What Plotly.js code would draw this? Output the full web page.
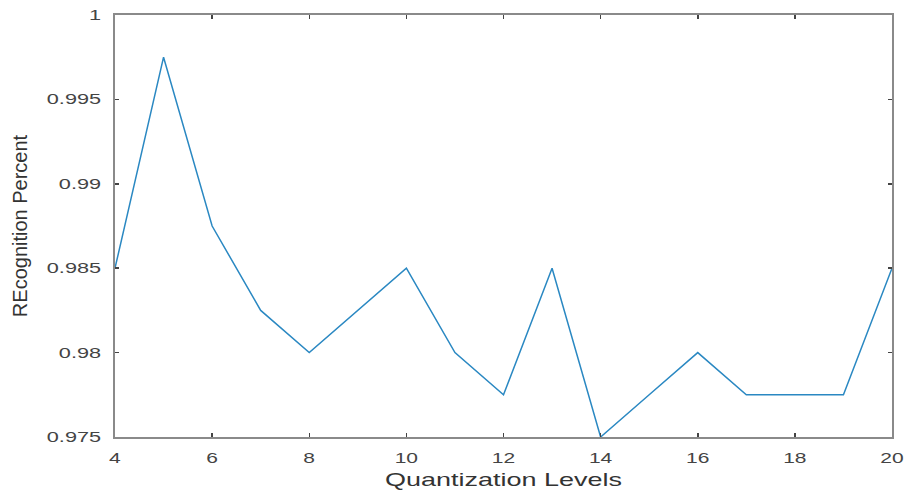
<!DOCTYPE html>
<html><head><meta charset="utf-8">
<script src="https://cdn.plot.ly/plotly-3.0.1.min.js"></script>
<style>body{margin:0;background:#fff}#c{width:904px;height:491px}</style>
</head><body><div id="c"></div>
<script>
const levels = [4,5,6,7,8,9,10,11,12,13,14,15,16,17,18,19,20];
const recognition = [0.985,0.9975,0.9875,0.9825,0.98,0.9825,0.985,0.98,0.9775,0.985,0.975,0.9775,0.98,0.9775,0.9775,0.9775,0.985];
const xTicks = [4,6,8,10,12,14,16,18,20];
const yTicks = [0.975,0.98,0.985,0.99,0.995,1];
const yTickText = ['0.975','0.98','0.985','0.99','0.995','1'];

const FONT = 'Liberation Sans, Arial, sans-serif';
const axisCommon = {
  showgrid:false, zeroline:false, showline:true, mirror:'ticks',
  linecolor:'#8a8a8a', linewidth:2, ticks:'inside', ticklen:4, tickwidth:1.5, tickcolor:'#444',
  tickfont:{family:FONT, size:14, color:'#444'}
};
Plotly.newPlot('c', [{
  x: levels, y: recognition, type:'scatter', mode:'lines',
  line:{color:'#2a88c2', width:1.5}
}], {
  width:904, height:491,
  margin:{l:115, r:12, t:15, b:54},
  paper_bgcolor:'#fff', plot_bgcolor:'#fff', showlegend:false,
  xaxis: Object.assign({}, axisCommon, {
    range:[4,20], tickvals:xTicks, ticklabelstandoff:7,
    title:{text:'Quantization Levels', standoff:9, font:{family:FONT, size:18, color:'#333'}}
  }),
  yaxis: Object.assign({}, axisCommon, {
    range:[0.975,1], tickvals:yTicks, ticktext:yTickText,
    title:{text:'REcognition Percent', standoff:42, font:{family:FONT, size:20, color:'#333'}}
  })
}, {displayModeBar:false, staticPlot:true}).then(function(gd){
  // the reference's horizontal text is stretched sideways
  function stretch(el, sx, anchorX, dx){
    const b = el.getBBox();
    const cx = (anchorX !== null) ? anchorX : b.x + b.width/2;
    const cy = b.y + b.height/2;
    const t = el.getAttribute('transform') || '';
    el.setAttribute('transform', t + ' translate(' + (cx + (dx||0)) + ',' + cy + ') scale(' + sx + ',1) translate(' + (-cx) + ',' + (-cy) + ')');
  }
  gd.querySelectorAll('.xtick text').forEach(el => stretch(el, 1.5, null, 0));
  gd.querySelectorAll('.ytick text').forEach(el => {
    const b = el.getBBox();
    stretch(el, 1.55, b.x + b.width, -9);
  });
  const xt = gd.querySelector('.g-xtitle text'); if (xt) stretch(xt, 1.5, null, 0);
});
</script></body></html>
